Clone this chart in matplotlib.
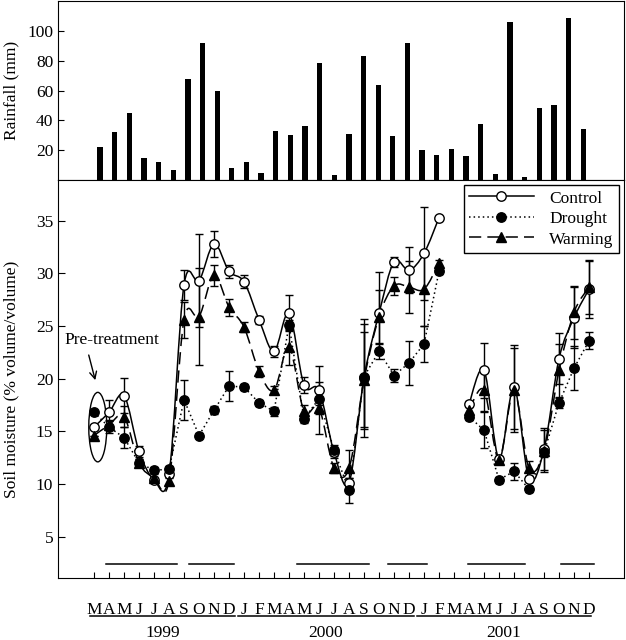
import numpy as np
import matplotlib
matplotlib.use('Agg')
import matplotlib.pyplot as plt
from matplotlib.path import Path
from matplotlib.patches import PathPatch, Ellipse
from matplotlib.lines import Line2D

plt.rcParams['font.family'] = ['Liberation Serif', 'DejaVu Serif']
plt.rcParams['font.size'] = 12.5

# months from Mar 1999 (0) to Dec 2001 (33)
months = np.arange(34)
month_labels = list('MAMJJASOND') + list('JFMAMJJASOND') * 2
years = ['1999', '2000', '2001']
year_spans = [(-0.3, 9.4), (9.6, 21.3), (21.5, 33.1)]
periods = [(0.8, 5.5), (6.3, 9.3), (13.5, 18.3), (19.6, 22.2), (24.9, 28.7), (31.1, 33.3)]

rainfall = [22, 32, 45, 15, 12, 6.5, 68, 92, 59.5, 8, 11.8, 4.7,
            33, 30, 36, 78.7, 3.3, 31, 83, 64, 29.5, 91.8, 20, 17,
            21, 16, 37.5, 4, 105.8, 1.8, 48.4, 50, 108.4, 34]

nan = np.nan
control = [15.4, 16.8, 18.4, 13.1, 10.4, 10.9, 28.9, 29.3, 32.8, 30.2, 29.2, 25.6,
           22.6, 26.2, 19.4, 18.9, 13.0, 10.1, 20.1, 26.2, 31.1, 30.3, 31.9, 35.3,
           nan, 17.6, 20.8, 12.4, 19.2, 10.5, 13.3, 21.9, 25.8, 28.5]
drought = [16.8, 15.4, 14.4, 12.0, 11.3, 11.4, 18.0, 14.6, 17.0, 19.3, 19.2, 17.7,
           16.9, 25.1, 16.2, 18.1, 13.2, 9.4, 20.2, 22.6, 20.3, 21.5, 23.3, 30.2,
           nan, 16.4, 15.1, 10.4, 11.2, 9.5, 13.0, 17.7, 21.0, 23.6]
warming = [14.6, 15.6, 16.4, 12.0, 10.6, 10.3, 25.6, 25.9, 29.8, 26.8, 24.9, 20.7,
           18.9, 23.0, 16.9, 17.2, 11.5, 11.5, 19.9, 25.9, 28.8, 28.7, 28.5, 31.0,
           nan, 17.0, 18.9, 12.3, 18.9, 11.5, 13.1, 20.8, 26.3, 28.7]

control_se = [0, 1.2, 1.7, 0.5, 0.3, 0.3, 1.4, 4.4, 1.2, 0.6, 0.6, 0.4,
              0.5, 1.7, 0.8, 2.3, 0.5, 0.5, 5.6, 3.9, 0.5, 2.2, 4.4, 0,
              nan, 0.3, 2.6, 0.3, 4.0, 0.3, 2.0, 2.4, 2.9, 2.7]
drought_se = [0, 0.6, 1.0, 0.4, 0.3, 0.3, 1.9, 0.2, 0.4, 1.4, 0.3, 0.3,
              0.4, 0.5, 0.4, 0.6, 0.5, 1.2, 5.0, 0.7, 0.6, 2.1, 1.7, 0.3,
              nan, 0.3, 1.7, 0.3, 0.8, 0.3, 0.4, 0.5, 2.1, 0.8]
warming_se = [0, 0.5, 1.0, 0.4, 0.3, 0.4, 1.7, 4.6, 1.0, 0.8, 0.5, 0.5,
              0.4, 1.7, 0.6, 2.5, 0.5, 1.7, 4.5, 2.5, 0.9, 2.5, 3.5, 0.3,
              nan, 0.4, 2.0, 0.3, 4.0, 0.7, 2.0, 2.5, 2.5, 2.6]


def smooth_path(x, y):
    """Catmull-Rom curve through the points, broken at NaNs."""
    x = np.asarray(x, float)
    y = np.asarray(y, float)
    idx = np.where(~np.isnan(y))[0]
    runs = np.split(idx, np.where(np.diff(idx) > 1)[0] + 1)
    verts, codes = [], []
    for r in runs:
        px, py = x[r], y[r]
        n = len(px)
        verts.append((px[0], py[0]))
        codes.append(Path.MOVETO)
        for k in range(n - 1):
            a = k - 1 if k > 0 else k
            d = k + 2 if k + 2 < n else k + 1
            c1 = (px[k] + (px[k + 1] - px[a]) / 6, py[k] + (py[k + 1] - py[a]) / 6)
            c2 = (px[k + 1] - (px[d] - px[k]) / 6, py[k + 1] - (py[d] - py[k]) / 6)
            verts += [c1, c2, (px[k + 1], py[k + 1])]
            codes += [Path.CURVE4] * 3
    return Path(verts, codes)


fig = plt.figure(figsize=(6.26, 6.40), dpi=100)
ax_r = fig.add_axes([0.0927, 0.71875, 0.9041, 0.2795])
ax = fig.add_axes([0.0927, 0.0969, 0.9041, 0.62185])

# rainfall panel
ax_r.bar(months, rainfall, width=0.36, color='black')
ax_r.set_xlim(-2.87, 35.79)
ax_r.set_ylim(0, 120)
ax_r.set_yticks([20, 40, 60, 80, 100])
ax_r.set_xticks([])
ax_r.tick_params(axis='y', direction='in', length=4)
ax_r.set_ylabel('Rainfall (mm)')
ax_r.yaxis.set_label_coords(-0.068, 0.5)

# soil moisture panel
ax.errorbar(months, control, yerr=control_se, fmt='none', ecolor='black',
            elinewidth=1, capsize=3.2, capthick=1, zorder=2)
ax.errorbar(months, warming, yerr=warming_se, fmt='none', ecolor='black',
            elinewidth=1, capsize=3.2, capthick=1, zorder=2)
ax.errorbar(months, drought, yerr=drought_se, fmt='none', ecolor='black',
            elinewidth=1, capsize=3.2, capthick=1, zorder=2)

ax.add_patch(PathPatch(smooth_path(months, control), fc='none', ec='black',
                       lw=1.1, zorder=3))
ax.add_patch(PathPatch(smooth_path(months, warming), fc='none', ec='black',
                       lw=1.1, ls=(0, (8, 4)), zorder=3))
ax.plot(months, drought, color='black', lw=1.1, ls=(0, (1, 2)), zorder=3)

ax.plot(months, control, ls='none', marker='o', ms=6.8, mfc='white',
        mec='black', mew=1, zorder=4)
ax.plot(months, warming, ls='none', marker='^', ms=6.8, mfc='black',
        mec='black', zorder=5)
ax.plot(months, drought, ls='none', marker='o', ms=6.8, mfc='black',
        mec='black', zorder=6)

# pre-treatment marker
ax.add_patch(Ellipse((0.25, 15.4), 1.2, 6.6, fc='none', ec='black', lw=1, zorder=3))
ax.annotate('', xy=(0.13, 19.6), xytext=(-0.4, 22.5),
            arrowprops=dict(arrowstyle='->', color='black', lw=1))
ax.text(-2.0, 23.7, 'Pre-treatment', ha='left', va='center')

# treatment periods
for start, end in periods:
    ax.plot([start, end], [2.4, 2.4], color='black', lw=1.1)

ax.set_xlim(-2.4, 35.33)
ax.set_ylim(1.07, 38.87)
ax.set_yticks([5, 10, 15, 20, 25, 30, 35])
ax.set_xticks(months)
ax.set_xticklabels(month_labels)
ax.tick_params(axis='y', direction='in', length=5)
ax.tick_params(axis='x', direction='in', length=4, pad=17)
ax.set_ylabel('Soil moisture (% volume/volume)')
ax.yaxis.set_label_coords(-0.068, 0.5)

trans = ax.get_xaxis_transform()
for yr, (x0, x1) in zip(years, year_spans):
    ax.plot([x0, x1], [-0.0955, -0.0955], color='black', lw=1.1,
            transform=trans, clip_on=False)
    ax.text((x0 + x1) / 2, -0.137, yr, ha='center', va='center', transform=trans)

handles = [
    Line2D([], [], color='black', lw=1.1, marker='o', ms=6.8, mfc='white', mec='black'),
    Line2D([], [], color='black', lw=1.1, ls=(0, (1, 2)), marker='o', ms=6.8, mfc='black'),
    Line2D([], [], color='black', lw=1.1, ls=(0, (8, 4)), marker='^', ms=6.8, mfc='black'),
]
leg = ax.legend(handles, ['Control', 'Drought', 'Warming'], loc='upper right',
                handlelength=3.7, borderaxespad=0.3, fancybox=False,
                edgecolor='black', framealpha=1, labelspacing=0.25,
                borderpad=0.3, handletextpad=0.9)
leg.get_frame().set_linewidth(1)

fig.savefig('out.png', dpi=100)
